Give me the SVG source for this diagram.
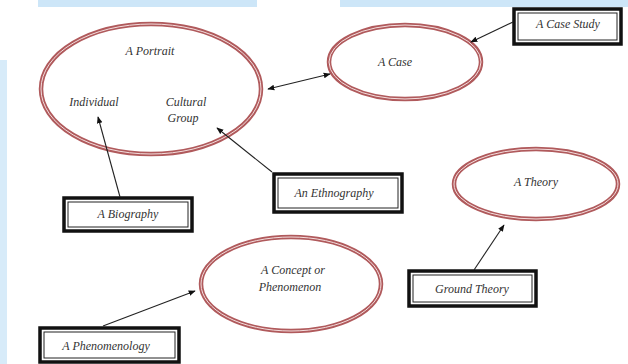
<svg xmlns="http://www.w3.org/2000/svg" width="628" height="364" viewBox="0 0 628 364">
<defs>
<marker id="ah" viewBox="0 0 10 10" refX="9" refY="5" markerWidth="7" markerHeight="7" orient="auto-start-reverse" markerUnits="userSpaceOnUse">
<path d="M0,1 L10,5 L0,9 Z" fill="#111"/>
</marker>
</defs>
<style>
.bg{fill:#cde6f8}
.ell{fill:#fff;stroke:#b05a5c;stroke-width:4.5}
.ell2{fill:none;stroke:#f4dede;stroke-width:1}
.box{fill:#fff;stroke:#111;stroke-width:3.5}
.box2{fill:none;stroke:#222;stroke-width:1}
.t{font-family:"Liberation Serif","Times New Roman","DejaVu Serif",serif;font-style:italic;font-size:12px;fill:#333;text-anchor:middle}
.c{stroke:#222;stroke-width:1.1;fill:none}
</style>
<rect width="628" height="364" fill="#fff"/>
<rect class="bg" x="38" y="0" width="219" height="7"/>
<rect class="bg" x="340" y="0" width="288" height="7"/>
<rect class="bg" x="0" y="60" width="7" height="304" opacity="0.8"/>

<g id="portrait">
<ellipse class="ell" cx="151" cy="89" rx="110" ry="65"/>
<ellipse class="ell2" cx="151" cy="89" rx="110" ry="65"/>
<text class="t" x="150" y="55">A Portrait</text>
<text class="t" x="94" y="106">Individual</text>
<text class="t" x="186" y="106">Cultural</text>
<text class="t" x="183" y="122">Group</text>
</g>

<g id="case">
<ellipse class="ell" cx="405" cy="62" rx="76" ry="37"/>
<ellipse class="ell2" cx="405" cy="62" rx="76" ry="37"/>
<text class="t" x="395" y="66">A Case</text>
</g>

<g id="case-study">
<rect class="box" x="514" y="9" width="107" height="35"/>
<rect class="box2" x="518" y="13" width="99" height="27"/>
<text class="t" x="568" y="28">A Case Study</text>
</g>

<g id="ethnography">
<rect class="box" x="274" y="174" width="128" height="38"/>
<rect class="box2" x="278" y="178" width="120" height="30"/>
<text class="t" x="334" y="197">An Ethnography</text>
</g>

<g id="biography">
<rect class="box" x="64" y="198" width="128" height="33"/>
<rect class="box2" x="68" y="202" width="120" height="25"/>
<text class="t" x="128" y="218">A Biography</text>
</g>

<g id="concept">
<ellipse class="ell" cx="291" cy="284" rx="90" ry="47"/>
<ellipse class="ell2" cx="291" cy="284" rx="90" ry="47"/>
<text class="t" x="293" y="274">A Concept or</text>
<text class="t" x="290" y="291">Phenomenon</text>
</g>

<g id="phenomenology">
<rect class="box" x="40" y="328" width="139" height="34"/>
<rect class="box2" x="44" y="332" width="131" height="26"/>
<text class="t" x="106" y="350">A Phenomenology</text>
</g>

<g id="theory">
<ellipse class="ell" cx="536" cy="184" rx="82" ry="35"/>
<ellipse class="ell2" cx="536" cy="184" rx="82" ry="35"/>
<text class="t" x="536" y="186">A Theory</text>
</g>

<g id="ground-theory">
<rect class="box" x="409" y="271" width="127" height="35"/>
<rect class="box2" x="413" y="275" width="119" height="27"/>
<text class="t" x="472" y="293">Ground Theory</text>
</g>

<g id="connectors">
<line class="c" x1="513" y1="22" x2="471" y2="42" marker-end="url(#ah)"/>
<line class="c" x1="268" y1="89" x2="330" y2="74" marker-start="url(#ah)" marker-end="url(#ah)"/>
<line class="c" x1="272" y1="172" x2="217" y2="128" marker-end="url(#ah)"/>
<line class="c" x1="120" y1="197" x2="98" y2="117" marker-end="url(#ah)"/>
<line class="c" x1="103" y1="326" x2="195" y2="291" marker-end="url(#ah)"/>
<line class="c" x1="474" y1="270" x2="504" y2="225" marker-end="url(#ah)"/>
</g>
</svg>
